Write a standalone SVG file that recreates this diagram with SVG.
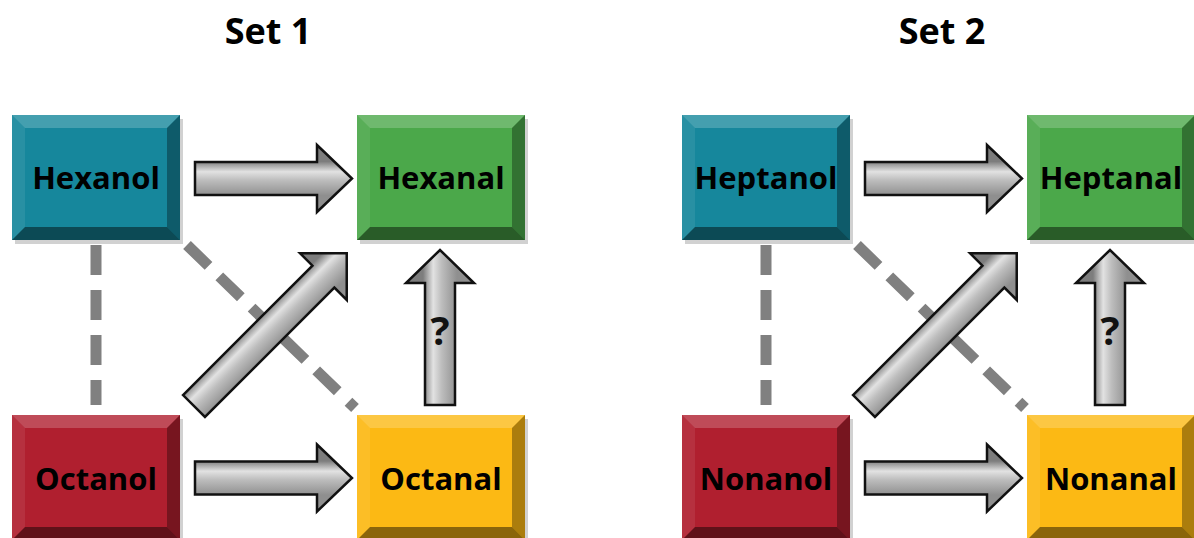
<svg xmlns="http://www.w3.org/2000/svg" xmlns:xlink="http://www.w3.org/1999/xlink" width="1194" height="538" viewBox="0 0 1194 538">
<style>
.title{font-family:"Open Sans","Liberation Sans",sans-serif;font-weight:bold;font-size:36px;fill:#000;text-anchor:middle}
.lbl{font-family:"Open Sans","Liberation Sans",sans-serif;font-weight:bold;font-size:31px;fill:#000;text-anchor:middle}
.q{font-family:"Open Sans","Liberation Sans",sans-serif;font-weight:bold;font-size:40px;fill:#111;text-anchor:middle}
.teal{fill:#16879c}
.green{fill:#4ba84a}
.red{fill:#b01f2f}
.yellow{fill:#fcb914}
.shadow{fill:#000;opacity:0.18}
.bt{fill:#fff;fill-opacity:0.2}
.bl{fill:#fff;fill-opacity:0.08}
.br{fill:#000;fill-opacity:0.32}
.bb{fill:#000;fill-opacity:0.45}
.dash{stroke:#808080;stroke-width:11;stroke-dasharray:30 15;fill:none}
.arrow{fill:url(#ag);stroke:#111;stroke-width:2.5;stroke-linejoin:miter}
</style>
<defs>
<linearGradient id="ag" gradientUnits="userSpaceOnUse" x1="0" y1="-17" x2="0" y2="17">
<stop offset="0" stop-color="#7d7d7d"/>
<stop offset="0.3" stop-color="#e2e2e2"/>
<stop offset="0.55" stop-color="#bdbdbd"/>
<stop offset="1" stop-color="#8f8f8f"/>
</linearGradient>
<g id="bevel">
<rect x="3" y="4" width="168" height="125" class="shadow"/>
</g>
<g id="bev">
<polygon class="bt" points="0,0 168,0 155,13 13,13"/>
<polygon class="bl" points="0,0 13,13 13,112 0,125"/>
<polygon class="br" points="168,0 168,125 155,112 155,13"/>
<polygon class="bb" points="0,125 13,112 155,112 168,125"/>
</g>
<path id="harrow" d="M0,-16.5 H122 V-33.5 L157,0 L122,33.5 V16.5 H0 Z"/>
<path id="varrow" d="M0,-15 H122 V-34 L155,0 L122,34 V15 H0 Z"/>
<path id="darrow" d="M0,-15.5 H183 V-33 L216,0 L183,33 V15.5 H0 Z"/>
</defs>

<text class="title" x="268" y="44">Set 1</text>
<text class="title" x="942" y="44">Set 2</text>

<g id="connectors">
<line class="dash" x1="96" y1="245" x2="96" y2="405"/>
<line class="dash" x1="187" y1="245" x2="355" y2="408"/>
<line class="dash" x1="766" y1="245" x2="766" y2="405"/>
<line class="dash" x1="857" y1="245" x2="1025" y2="408"/>
<use href="#harrow" class="arrow" transform="translate(195,178.5)"/>
<use href="#harrow" class="arrow" transform="translate(195,478)"/>
<use href="#varrow" class="arrow" transform="translate(440,405) rotate(-90)"/>
<use href="#darrow" class="arrow" transform="translate(194,406) rotate(-45)"/>
<text class="q" x="440" y="345">?</text>
<use href="#harrow" class="arrow" transform="translate(865,178.5)"/>
<use href="#harrow" class="arrow" transform="translate(865,478)"/>
<use href="#varrow" class="arrow" transform="translate(1110,405) rotate(-90)"/>
<use href="#darrow" class="arrow" transform="translate(864,406) rotate(-45)"/>
<text class="q" x="1110" y="345">?</text>
</g>

<g id="hexanol">
<use href="#bevel" x="12" y="115"/>
<rect x="12" y="115" width="168" height="125" class="teal"/>
<use href="#bev" x="12" y="115"/>
<text class="lbl" x="96" y="189">Hexanol</text>
</g>
<g id="hexanal">
<use href="#bevel" x="357" y="115"/>
<rect x="357" y="115" width="168" height="125" class="green"/>
<use href="#bev" x="357" y="115"/>
<text class="lbl" x="441" y="189">Hexanal</text>
</g>
<g id="octanol">
<use href="#bevel" x="12" y="415"/>
<rect x="12" y="415" width="168" height="125" class="red"/>
<use href="#bev" x="12" y="415"/>
<text class="lbl" x="96" y="490">Octanol</text>
</g>
<g id="octanal">
<use href="#bevel" x="357" y="415"/>
<rect x="357" y="415" width="168" height="125" class="yellow"/>
<use href="#bev" x="357" y="415"/>
<text class="lbl" x="441" y="490">Octanal</text>
</g>
<g id="heptanol">
<use href="#bevel" x="682" y="115"/>
<rect x="682" y="115" width="168" height="125" class="teal"/>
<use href="#bev" x="682" y="115"/>
<text class="lbl" x="766" y="189">Heptanol</text>
</g>
<g id="heptanal">
<use href="#bevel" x="1027" y="115"/>
<rect x="1027" y="115" width="168" height="125" class="green"/>
<use href="#bev" x="1027" y="115"/>
<text class="lbl" x="1111" y="189">Heptanal</text>
</g>
<g id="nonanol">
<use href="#bevel" x="682" y="415"/>
<rect x="682" y="415" width="168" height="125" class="red"/>
<use href="#bev" x="682" y="415"/>
<text class="lbl" x="766" y="490">Nonanol</text>
</g>
<g id="nonanal">
<use href="#bevel" x="1027" y="415"/>
<rect x="1027" y="415" width="168" height="125" class="yellow"/>
<use href="#bev" x="1027" y="415"/>
<text class="lbl" x="1111" y="490">Nonanal</text>
</g>
</svg>
